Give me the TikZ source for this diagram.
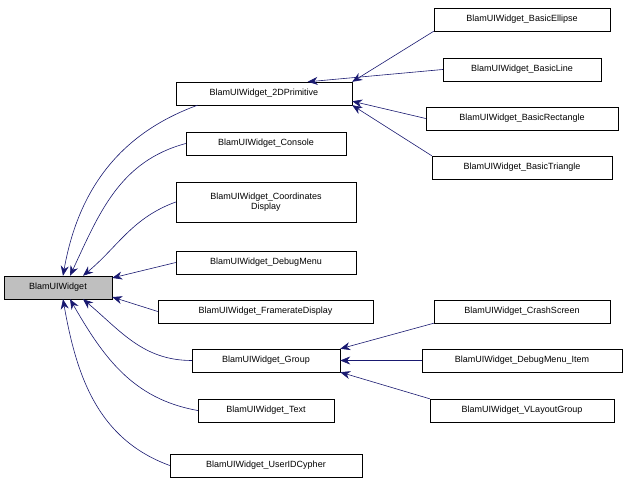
\documentclass[tikz,border=0pt]{standalone}
\usepackage{fontspec}
\setmainfont{Liberation Sans}
\usetikzlibrary{arrows.meta}
\begin{document}
\begin{tikzpicture}[x=1pt,y=-1pt,
 b/.style={draw=black,fill=white,inner sep=0pt,font=\fontsize{9}{10.5}\selectfont,align=center},
 e/.style={draw={rgb,255:red,25;green,25;blue,112},-{Stealth[length=10pt,width=8pt,fill={rgb,255:red,25;green,25;blue,112}]},line width=0.6pt}]
\useasboundingbox (0,0) rectangle (640,484);
\newcommand\bx[6]{\node[b,#6,minimum width=#3-#2,minimum height=#5-#4] (#1) at ({(#2+#3)/2},{(#4+#5)/2})}
\bx{w}{4}{112}{276}{299}{fill={rgb,255:red,191;green,191;blue,191}}{BlamUIWidget};
\bx{p}{176}{352}{82}{105}{}{BlamUIWidget\_2DPrimitive};
\bx{c}{186}{346}{132}{155}{}{BlamUIWidget\_Console};
\bx{cd}{176}{356}{182}{222}{}{BlamUIWidget\_Coordinates\\Display};
\bx{dm}{176}{356}{251}{274}{}{BlamUIWidget\_DebugMenu};
\bx{fd}{158}{373}{300}{323}{}{BlamUIWidget\_FramerateDisplay};
\bx{g}{192}{340}{349}{372}{}{BlamUIWidget\_Group};
\bx{t}{198}{334}{399}{422}{}{BlamUIWidget\_Text};
\bx{u}{170}{362}{454}{477}{}{BlamUIWidget\_UserIDCypher};
\bx{be}{434}{610}{8}{31}{}{BlamUIWidget\_BasicEllipse};
\bx{bl}{443}{601}{58}{81}{}{BlamUIWidget\_BasicLine};
\bx{br}{426}{618}{107}{130}{}{BlamUIWidget\_BasicRectangle};
\bx{bt}{432}{612}{156}{179}{}{BlamUIWidget\_BasicTriangle};
\bx{cs}{434}{610}{300}{323}{}{BlamUIWidget\_CrashScreen};
\bx{di}{422}{622}{349}{372}{}{BlamUIWidget\_DebugMenu\_Item};
\bx{vl}{430}{614}{399}{422}{}{BlamUIWidget\_VLayoutGroup};
\draw[e] (p.190) to[out=200,in=80] ([xshift=5]w.north);
\draw[e] (c.west) to[out=195,in=65] ([xshift=12]w.north);
\draw[e] (cd.west) to[out=200,in=40] ([xshift=25]w.north);
\draw[e] (dm.west) -- (w.east|-w.10);
\draw[e] (fd.west) -- (w.east|-w.-10);
\draw[e] (g.west) to[out=180,in=-40] ([xshift=25]w.south);
\draw[e] (t.west) to[out=170,in=-60] ([xshift=12]w.south);
\draw[e] (u.west) to[out=160,in=-80] ([xshift=5]w.south);
\draw[e] (be.south west) -- (p.north east);
\draw[e] (bl.west) -- (p.15);
\draw[e] (br.west) -- (p.-5);
\draw[e] (bt.north west) -- (p.south east);
\draw[e] (cs.south west) -- (g.north east);
\draw[e] (di.west) -- (g.east);
\draw[e] (vl.north west) -- (g.south east);
\end{tikzpicture}
\end{document}
